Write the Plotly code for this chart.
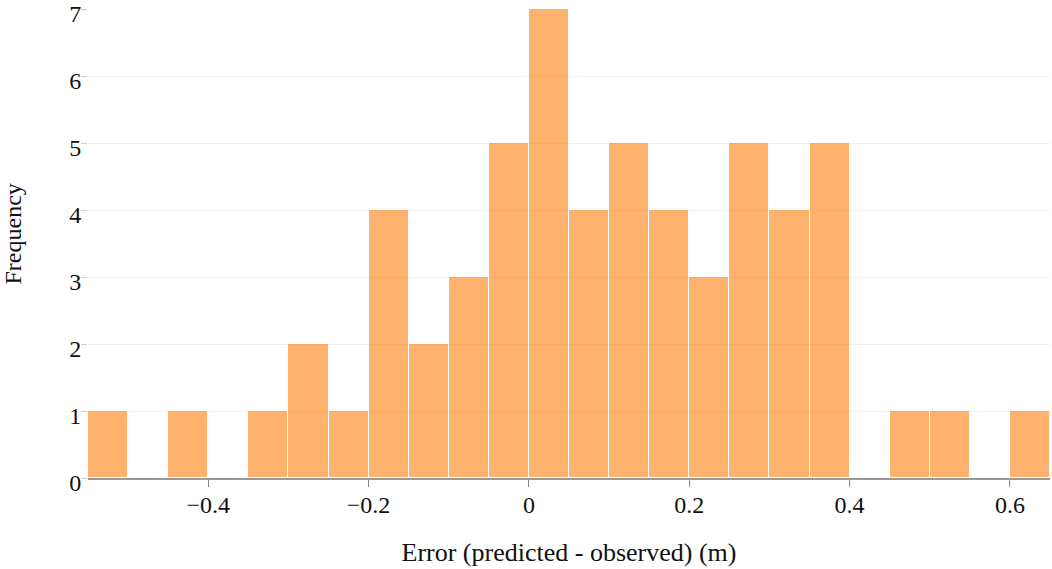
import plotly.graph_objects as go

bin_starts = [-0.55, -0.50, -0.45, -0.40, -0.35, -0.30, -0.25, -0.20, -0.15, -0.10,
              -0.05, 0.00, 0.05, 0.10, 0.15, 0.20, 0.25, 0.30, 0.35, 0.40,
              0.45, 0.50, 0.55, 0.60]
counts = [1, 0, 1, 0, 1, 2, 1, 4, 2, 3,
          5, 7, 4, 5, 4, 3, 5, 4, 5, 0,
          1, 1, 0, 1]
bin_width = 0.05
x_ticks = [-0.4, -0.2, 0, 0.2, 0.4, 0.6]
x_tick_labels = ["\u22120.4", "\u22120.2", "0", "0.2", "0.4", "0.6"]
y_ticks = [0, 1, 2, 3, 4, 5, 6, 7]

centers = [s + bin_width / 2 for s in bin_starts]

fig = go.Figure(go.Bar(
    x=centers, y=counts, width=bin_width,
    marker=dict(color="#ff7f0e", opacity=0.6, line=dict(color="white", width=1)),
))

font_family = "Liberation Serif, Times New Roman, serif"
fig.update_layout(
    width=1052, height=569,
    margin=dict(l=88, r=2, t=9, b=91),
    plot_bgcolor="white", paper_bgcolor="white",
    font=dict(family=font_family, size=22, color="#111"),
    showlegend=False, bargap=0,
)
fig.update_xaxes(
    range=[-0.55, 0.65], tickvals=x_ticks, ticktext=x_tick_labels, automargin=False,
    tickfont=dict(size=24), ticklabelstandoff=-3,
    ticks="outside", ticklen=7, tickcolor="#888", showline=True, linecolor="#999", linewidth=1.5,
    showgrid=False, zeroline=False,
    title=dict(text="Error (predicted - observed) (m)", standoff=26),
)
fig.update_yaxes(
    range=[0, 7], tickvals=y_ticks, automargin=False, ticklabeloverflow="allow",
    tickfont=dict(size=24), ticklabelshift=5, ticklabelstandoff=-5,
    ticks="outside", ticklen=6, tickcolor="#ccc",
    showgrid=True, gridcolor="#eeeeee", zeroline=False, showline=False,
)
fig.add_annotation(
    text="Frequency", textangle=-90, font=dict(size=24),
    xref="paper", yref="paper", x=-88 / 962 + 12.5 / 962, y=(478 - 234) / 469,
    xanchor="center", yanchor="middle", showarrow=False,
)
fig.write_html("out.html", config={"displayModeBar": False},
               post_script="document.body.style.margin='0';")
